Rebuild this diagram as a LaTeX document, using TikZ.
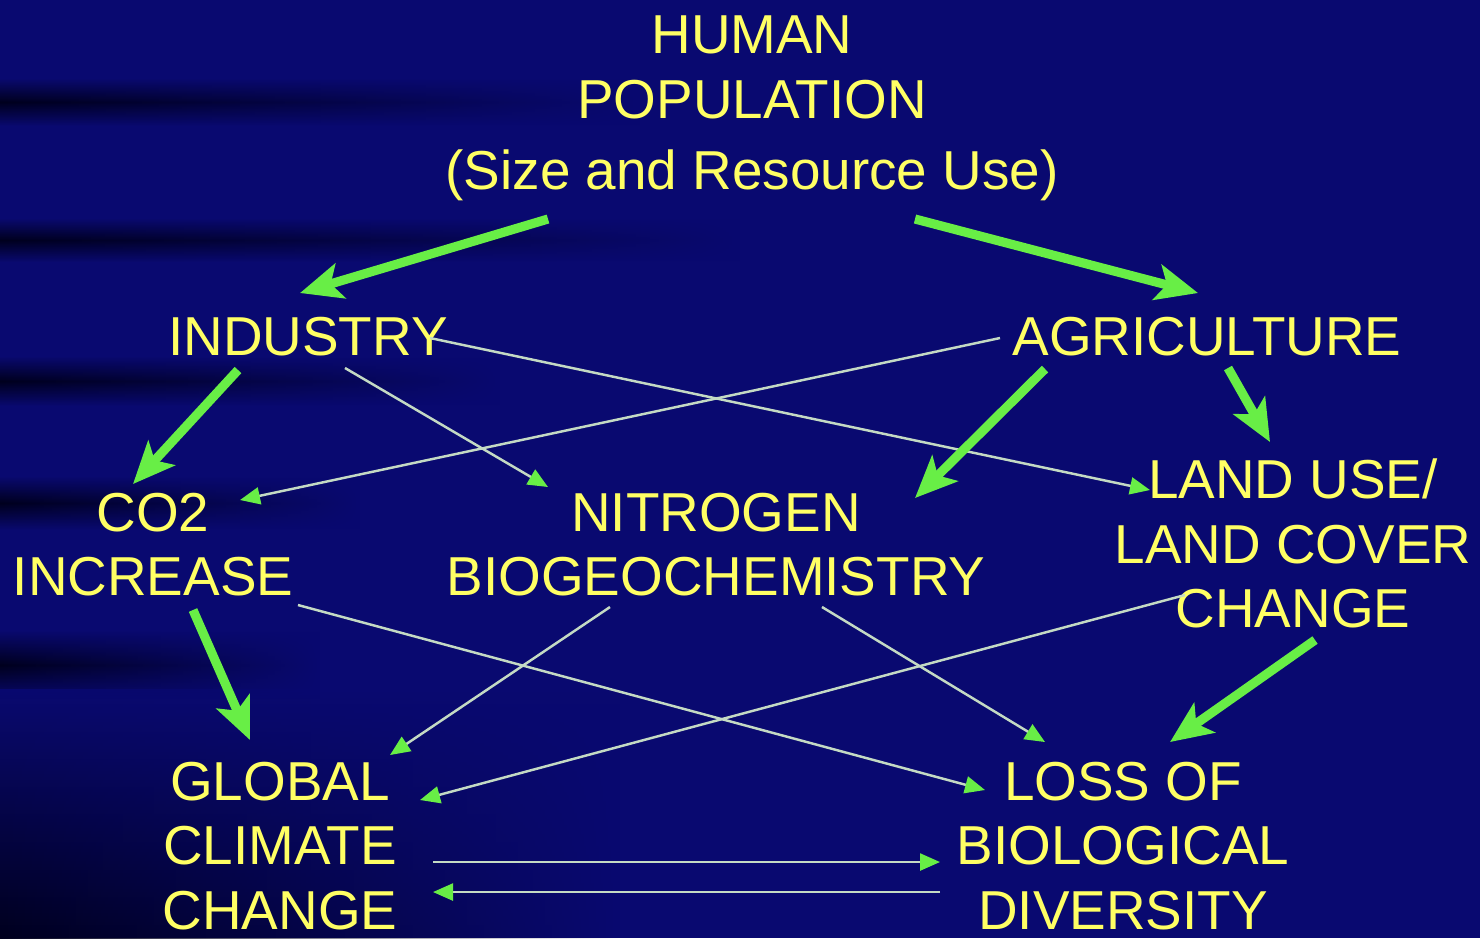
\documentclass[tikz,border=0pt]{standalone}
\usepackage{fontspec}
\setmainfont{Liberation Sans}
\usetikzlibrary{arrows.meta,fadings}

\definecolor{bgnavy}{RGB}{9,9,112}
\definecolor{bgdark}{RGB}{0,0,30}
\definecolor{txtyellow}{RGB}{255,255,100}
\definecolor{arrgreen}{RGB}{104,238,70}
\definecolor{thingray}{RGB}{196,218,196}

\begin{document}
\begin{tikzpicture}[x=0.01cm,y=-0.01cm,
  lbl/.style={text=txtyellow,align=center,inner sep=0pt,anchor=north,font=\fontsize{15.6}{18.4}\selectfont},
  darkband/.style={top color=bgnavy,bottom color=bgnavy,middle color=bgdark,path fading=east},
  bigarr/.style={arrgreen,line width=2.6pt,-{Stealth[length=0.42cm,width=0.36cm,inset=0.1cm]}},
  thinarr/.style={thingray,line width=0.7pt,-{Triangle[length=0.2cm,width=0.17cm,color=arrgreen]}}]
  % hintergrund mit dunklen streifen links
  \fill[bgnavy] (0,0) rectangle (1480,938);
  \useasboundingbox (0,0) rectangle (1480,938);
  \shade[darkband] (0,78) rectangle (640,126);
  \shade[darkband] (0,218) rectangle (740,262);
  \shade[darkband] (0,356) rectangle (500,406);
  \shade[darkband] (0,476) rectangle (360,530);
  \shade[darkband] (0,630) rectangle (320,700);
  \shade[top color=bgnavy,bottom color=bgdark,path fading=east] (0,690) rectangle (620,938);
  % uzly
  \node[lbl] (hum) at (752,15) {HUMAN\\POPULATION\\[2pt](Size and Resource Use)};
  \node[lbl] (ind) at (308,316) {INDUSTRY};
  \node[lbl] (agr) at (1207,316) {AGRICULTURE};
  \node[lbl] (co2) at (153,492) {CO2\\INCREASE};
  \node[lbl] (nit) at (716,492) {NITROGEN\\BIOGEOCHEMISTRY};
  \node[lbl] (land) at (1293,458) {LAND USE/\\LAND COVER\\CHANGE};
  \node[lbl] (glob) at (280,761) {GLOBAL\\CLIMATE\\CHANGE};
  \node[lbl] (loss) at (1123,761) {LOSS OF\\BIOLOGICAL\\DIVERSITY};
  % slabe vazby
  \foreach \a/\ax/\ay/\b/\bx/\by in {ind/122/22/land/-143/32, ind/37/52/nit/-168/-5,
      agr/-207/22/co2/87/8, co2/145/113/loss/-138/29, nit/-106/115/glob/110/-6,
      nit/106/115/loss/-78/-19, land/-108/137/glob/140/39,
      glob/153/101/loss/-183/101, loss/-183/131/glob/153/131}
    \draw[thinarr] ([shift={(\ax,\ay)}]\a.north) -- ([shift={(\bx,\by)}]\b.north);
  % silne vazby
  \foreach \a/\ax/\ay/\b/\bx/\by in {hum/-204/204/ind/-8/-23, hum/163/204/agr/-9/-23,
      ind/-70/54/co2/-20/-8, agr/-162/53/nit/199/6, agr/21/52/land/-23/-16,
      co2/40/118/glob/-30/-21, land/22/182/loss/47/-19}
    \draw[bigarr] ([shift={(\ax,\ay)}]\a.north) -- ([shift={(\bx,\by)}]\b.north);
\end{tikzpicture}
\end{document}
